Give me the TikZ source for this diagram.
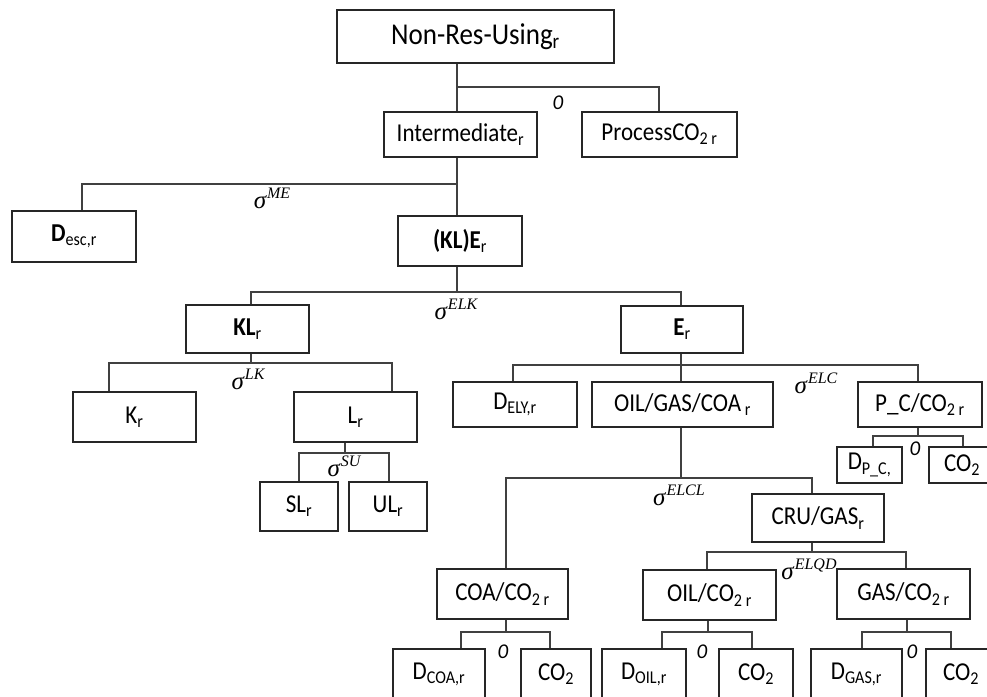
\documentclass[tikz,border=0pt]{standalone}
\usepackage{graphicx}
\usepackage{fontspec}
\setmainfont{Carlito}
\newfontfamily\lserif{Liberation Serif}
\newcommand\sbs[1]{\textsubscript{#1}}
\newcommand\tx[1]{\scalebox{1}[1.12]{#1}}
\newcommand\sg[1]{{\fontsize{25}{28}\selectfont\lserif\itshape σ}\kern1pt\raisebox{10pt}{\fontsize{16}{18}\selectfont\lserif\itshape #1}}
\tikzset{
  box/.style={draw=black!85, line width=1.2pt, fill=white, inner sep=0pt,
    font=\fontsize{23}{27}\selectfont},
  conn/.style={draw=black!75, line width=1.2pt},
  sig/.style={inner sep=0pt},
  zero/.style={font=\fontsize{21}{24}\selectfont\itshape, inner sep=0pt},
}
\begin{document}
\begin{tikzpicture}[x=1pt,y=-1pt]
\useasboundingbox (0,0) rectangle (987,696);
\fill[white] (0,0) rectangle (987,696);
\clip (0,0) rectangle (987,696);

% ---------- boxes ----------
\node[box, minimum width=277pt, minimum height=53pt, font=\fontsize{27}{32}\selectfont] (top) at (475.5,36.5) {\tx{Non-Res-Using\sbs{r}}};
\node[box, minimum width=153pt, minimum height=45pt] (inter) at (460.5,134.5) {\tx{Intermediate\sbs{r}}};
\node[box, minimum width=155pt, minimum height=45pt] (proc) at (659.5,134.5) {\tx{ProcessCO\sbs{2 r}}};
\node[box, minimum width=124pt, minimum height=51pt] (desc) at (74,236.5) {\tx{\textbf{D}\sbs{esc,r}}};
\node[box, minimum width=124pt, minimum height=50pt] (kle) at (460,241) {\tx{\textbf{(KL)E}\sbs{r}}};
\node[box, minimum width=123pt, minimum height=48pt] (kl) at (247.5,329) {\tx{\textbf{KL}\sbs{r}}};
\node[box, minimum width=123pt, minimum height=50pt] (k) at (134.5,417) {\tx{K\sbs{r}}};
\node[box, minimum width=123pt, minimum height=50pt] (l) at (355.5,417) {\tx{L\sbs{r}}};
\node[box, minimum width=78pt, minimum height=49pt] (sl) at (299,506.5) {\tx{SL\sbs{r}}};
\node[box, minimum width=78pt, minimum height=49pt] (ul) at (388,506.5) {\tx{UL\sbs{r}}};
\node[box, minimum width=122pt, minimum height=47pt] (e) at (682,329.5) {\tx{\textbf{E}\sbs{r}}};
\node[box, minimum width=124pt, minimum height=45pt] (dely) at (515,404.5) {\tx{D\sbs{ELY,r}}};
\node[box, minimum width=181pt, minimum height=45pt] (ogc) at (682.5,404.5) {\tx{OIL/GAS/COA\sbs{ r}}};
\node[box, minimum width=124pt, minimum height=45pt] (pc) at (920,404.5) {\tx{P\_C/CO\sbs{2 r}}};
\node[box, minimum width=65pt, minimum height=36pt] (dpc) at (869.5,465) {\tx{D\sbs{P\_C,}}};
\node[box, minimum width=66pt, minimum height=36pt] (co2a) at (962,465) {\tx{CO\sbs{2}}};
\node[box, minimum width=132pt, minimum height=48pt] (cru) at (818,518) {\tx{CRU/GAS\sbs{r}}};
\node[box, minimum width=131pt, minimum height=50pt] (coa) at (502.5,594) {\tx{COA/CO\sbs{2 r}}};
\node[box, minimum width=133pt, minimum height=50pt] (oil) at (709.5,595) {\tx{OIL/CO\sbs{2 r}}};
\node[box, minimum width=133pt, minimum height=50pt] (gas) at (903.5,594) {\tx{GAS/CO\sbs{2 r}}};
\node[box, minimum width=92pt, minimum height=50pt] (dcoa) at (439,674) {\tx{D\sbs{COA,r}}};
\node[box, minimum width=70pt, minimum height=50pt] (co2b) at (556,674) {\tx{CO\sbs{2}}};
\node[box, minimum width=84pt, minimum height=50pt] (doil) at (644,674) {\tx{D\sbs{OIL,r}}};
\node[box, minimum width=74pt, minimum height=50pt] (co2c) at (756,674) {\tx{CO\sbs{2}}};
\node[box, minimum width=91pt, minimum height=50pt] (dgas) at (856.5,674) {\tx{D\sbs{GAS,r}}};
\node[box, minimum width=70pt, minimum height=50pt] (co2d) at (961,674) {\tx{CO\sbs{2}}};

% ---------- branch points ----------
\coordinate (b1) at (457,87);   \coordinate (b1r) at (659,87);
\coordinate (b2) at (457,184);  \coordinate (b2l) at (82,184);
\coordinate (b3) at (457,292);  \coordinate (b3l) at (251,292); \coordinate (b3r) at (681,292);
\coordinate (b4) at (251,363);  \coordinate (b4l) at (109,363); \coordinate (b4r) at (392,363);
\coordinate (b5) at (345,453);  \coordinate (b5l) at (299,453); \coordinate (b5r) at (389,453);
\coordinate (b6) at (681,365);  \coordinate (b6l) at (513,365); \coordinate (b6r) at (918,365);
\coordinate (b7) at (918,436);  \coordinate (b7l) at (873,436); \coordinate (b7r) at (963,436);
\coordinate (b8) at (681,478);  \coordinate (b8l) at (506,478); \coordinate (b8r) at (812,478);
\coordinate (b9) at (812,552);  \coordinate (b9l) at (707,552); \coordinate (b9r) at (906,552);
\coordinate (b10) at (506,632); \coordinate (b10l) at (461,632); \coordinate (b10r) at (550,632);
\coordinate (b11) at (708,632); \coordinate (b11l) at (662,632); \coordinate (b11r) at (752,632);
\coordinate (b12) at (907,632); \coordinate (b12l) at (862,632); \coordinate (b12r) at (951,632);

% ---------- connectors ----------
\draw[conn] (top.south -| b1) -- (b1 |- inter.north);
\draw[conn] (b1) -- (b1r) -- (b1r |- proc.north);

\draw[conn] (inter.south -| b2) -- (b2 |- kle.north);
\draw[conn] (b2) -- (b2l) -- (b2l |- desc.north);

\draw[conn] (kle.south -| b3) -- (b3);
\draw[conn] (b3l |- kl.north) -- (b3l) -- (b3r) -- (b3r |- e.north);

\draw[conn] (kl.south -| b4) -- (b4);
\draw[conn] (b4l |- k.north) -- (b4l) -- (b4r) -- (b4r |- l.north);

\draw[conn] (l.south -| b5) -- (b5);
\draw[conn] (b5l |- sl.north) -- (b5l) -- (b5r) -- (b5r |- ul.north);

\draw[conn] (e.south -| b6) -- (b6 |- ogc.north);
\draw[conn] (b6l |- dely.north) -- (b6l) -- (b6r) -- (b6r |- pc.north);

\draw[conn] (pc.south -| b7) -- (b7);
\draw[conn] (b7l |- dpc.north) -- (b7l) -- (b7r) -- (b7r |- co2a.north);

\draw[conn] (ogc.south -| b8) -- (b8);
\draw[conn] (b8l |- coa.north) -- (b8l) -- (b8r) -- (b8r |- cru.north);

\draw[conn] (cru.south -| b9) -- (b9);
\draw[conn] (b9l |- oil.north) -- (b9l) -- (b9r) -- (b9r |- gas.north);

\draw[conn] (coa.south -| b10) -- (b10);
\draw[conn] (b10l |- dcoa.north) -- (b10l) -- (b10r) -- (b10r |- co2b.north);

\draw[conn] (oil.south -| b11) -- (b11);
\draw[conn] (b11l |- doil.north) -- (b11l) -- (b11r) -- (b11r |- co2c.north);

\draw[conn] (gas.south -| b12) -- (b12);
\draw[conn] (b12l |- dgas.north) -- (b12l) -- (b12r) -- (b12r |- co2d.north);

% ---------- labels ----------
\node[zero] (z1) at (558,103) {0};
\node[sig] (sme) at (272,198) {\sg{ME}};
\node[sig] (selk) at (456,309) {\sg{ELK}};
\node[sig] (slk) at (248,379) {\sg{LK}};
\node[sig] (ssu) at (344,466) {\sg{SU}};
\node[sig] (selc) at (816,383) {\sg{ELC}};
\node[zero] (z2) at (915,449) {0};
\node[sig] (selcl) at (679,495) {\sg{ELCL}};
\node[sig] (selqd) at (809,569) {\sg{ELQD}};
\node[zero] (z3) at (503,652) {0};
\node[zero] (z4) at (702,652) {0};
\node[zero] (z5) at (912,652) {0};
\end{tikzpicture}
\end{document}
